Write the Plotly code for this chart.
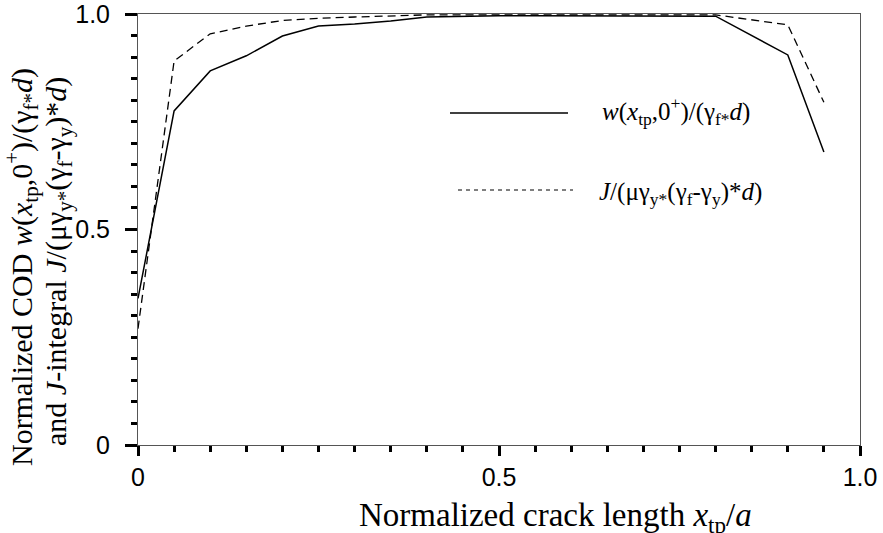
import plotly.graph_objects as go

# ---- data ----
x_tp = [0.0, 0.05, 0.10, 0.15, 0.20, 0.25, 0.30, 0.35, 0.40, 0.45, 0.50,
        0.55, 0.60, 0.65, 0.70, 0.75, 0.80, 0.90, 0.95]
cod = [0.34, 0.775, 0.868, 0.903, 0.949, 0.972, 0.977, 0.984, 0.993, 0.995, 0.996,
       0.996, 0.996, 0.996, 0.996, 0.996, 0.995, 0.905, 0.68]
j_int = [0.27, 0.891, 0.954, 0.972, 0.985, 0.990, 0.993, 0.995, 0.998, 0.998, 0.998,
         0.998, 0.998, 0.998, 0.998, 0.998, 0.998, 0.975, 0.795]

x_tickvals = [0, 0.5, 1.0]
x_ticktext = ["0", "0.5", "1.0"]
y_tickvals = [0, 0.5, 1.0]
y_ticktext = ["0", "0.5", "1.0"]

serif = "Liberation Serif"
sans = "Liberation Sans"

fig = go.Figure()
fig.add_trace(go.Scatter(x=x_tp, y=cod, mode="lines",
                         line=dict(color="black", width=1.5), showlegend=False))
fig.add_trace(go.Scatter(x=x_tp, y=j_int, mode="lines",
                         line=dict(color="black", width=1.3, dash="8px,5px"), showlegend=False))

W, H = 883, 533
L, R, T, B = 138, 23, 14, 88

fig.update_layout(
    width=W, height=H,
    margin=dict(l=L, r=R, t=T, b=B, autoexpand=False),
    plot_bgcolor="white", paper_bgcolor="white",
    showlegend=False,
)

common = dict(
    ticks="outside", tickwidth=3, tickcolor="black",
    minor=dict(dtick=0.05, ticks="outside", ticklen=6, tickwidth=2.5, tickcolor="black"),
    showgrid=False, zeroline=False,
    showline=True, linecolor="#555", linewidth=1, mirror=True,
    tickfont=dict(family=sans, size=25, color="black"),
    automargin=False, ticklabeloverflow="allow",
)
fig.update_xaxes(range=[0, 1.0], tickvals=x_tickvals, ticktext=x_ticktext,
                 ticklen=10, ticklabelstandoff=0, **common)
fig.update_yaxes(range=[0, 1.0], tickvals=y_tickvals, ticktext=y_ticktext,
                 ticklen=12, ticklabelstandoff=10, **common)

def px2paper_x(px):
    return (px - L) / (W - L - R)

def px2paper_y(py):
    return (H - B - py) / (H - T - B)

tfont_x = dict(family=serif, size=33, color="black")
tfont_y = dict(family=serif, size=30, color="black")
lfont = dict(family=serif, size=25, color="black")

# x-axis title
fig.add_annotation(
    text="Normalized crack length <i>x</i><sub>tp</sub>/<i>a</i>",
    xref="paper", yref="paper", x=px2paper_x(555), y=px2paper_y(517),
    showarrow=False, font=tfont_x, xanchor="center", yanchor="middle")

# y-axis title (two lines)
fig.add_annotation(
    text="Normalized COD <i>w</i>(<i>x</i><sub>tp</sub>,0<sup>+</sup>)/(γ<sub>f*</sub><i>d</i>)",
    xref="paper", yref="paper", x=px2paper_x(21), y=px2paper_y(267),
    showarrow=False, font=tfont_y, textangle=-90, xanchor="center", yanchor="middle")
fig.add_annotation(
    text="and <i>J</i>-integral <i>J</i>/(μγ<sub>y*</sub>(γ<sub>f</sub>-γ<sub>y</sub>)*<i>d</i>)",
    xref="paper", yref="paper", x=px2paper_x(58), y=px2paper_y(262),
    showarrow=False, font=tfont_y, textangle=-90, xanchor="center", yanchor="middle")

# legend
fig.add_shape(type="line", xref="paper", yref="paper",
              x0=px2paper_x(450), x1=px2paper_x(568), y0=px2paper_y(113), y1=px2paper_y(113),
              line=dict(color="black", width=1.5))
fig.add_shape(type="line", xref="paper", yref="paper",
              x0=px2paper_x(458), x1=px2paper_x(573), y0=px2paper_y(190), y1=px2paper_y(190),
              line=dict(color="black", width=1.2, dash="4px,4px"))
fig.add_annotation(
    text="<i>w</i>(<i>x</i><sub>tp</sub>,0<sup>+</sup>)/(γ<sub>f*</sub><i>d</i>)",
    xref="paper", yref="paper", x=px2paper_x(600), y=px2paper_y(111),
    showarrow=False, font=lfont, xanchor="left", yanchor="middle")
fig.add_annotation(
    text="<i>J</i>/(μγ<sub>y*</sub>(γ<sub>f</sub>-γ<sub>y</sub>)*<i>d</i>)",
    xref="paper", yref="paper", x=px2paper_x(597), y=px2paper_y(193),
    showarrow=False, font=lfont, xanchor="left", yanchor="middle")

fig.write_html("out.html", config={"displayModeBar": False},
               post_script="document.body.style.margin='0';")
